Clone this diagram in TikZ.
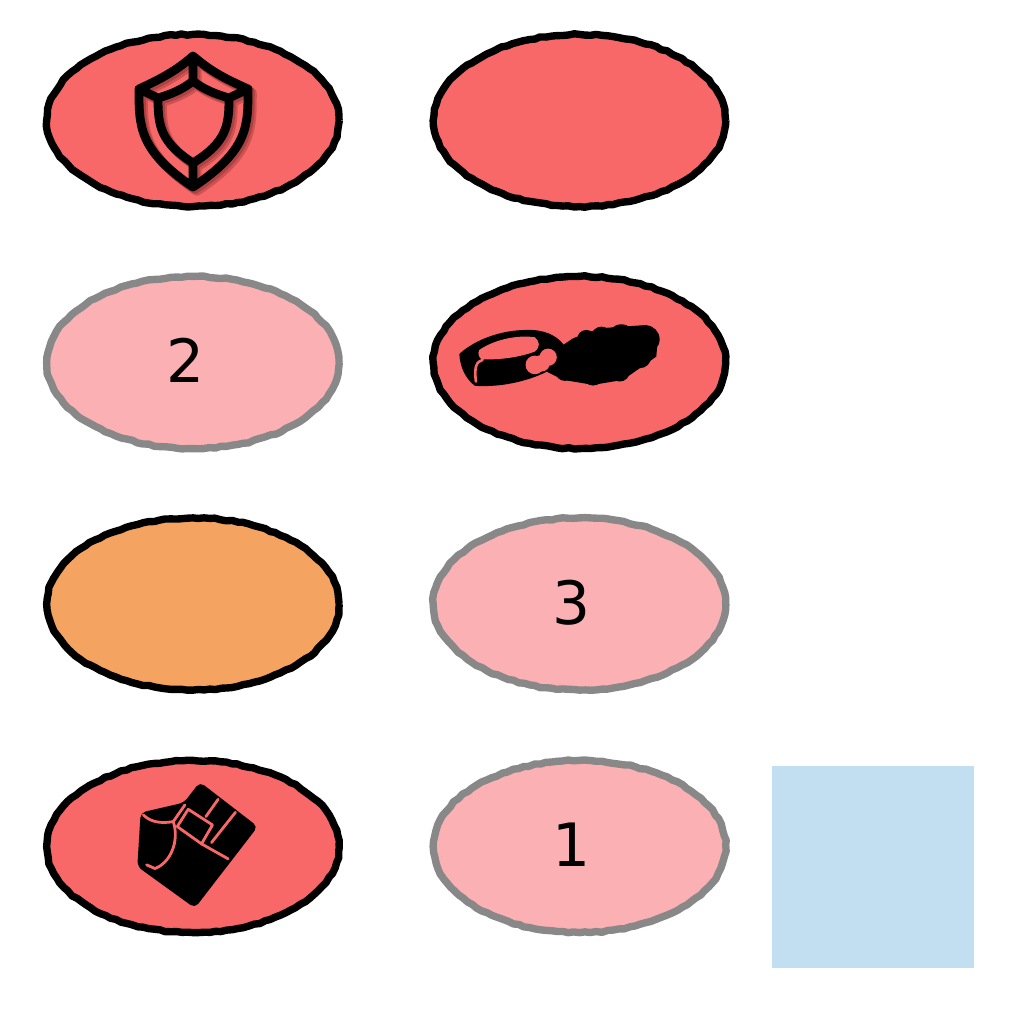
\documentclass[tikz,border=0pt]{standalone}
\usepackage{fontspec}
\setmainfont{DejaVu Sans}
\usetikzlibrary{shapes.geometric,decorations.pathmorphing}
\definecolor{redfill}{HTML}{F86868}
\definecolor{palefill}{HTML}{FBB1B3}
\definecolor{orangefill}{HTML}{F5A361}
\definecolor{greyline}{HTML}{888888}
\definecolor{bluefill}{HTML}{C1DFF1}
\definecolor{shadowred}{HTML}{4A1010}
\pgfmathsetmacro{\unusedseed}{1}
\pgfmathsetseed{7}
\tikzset{
  blob/.style={ellipse,inner sep=0pt,minimum width=2.92cm,minimum height=1.72cm,
    line width=2.1pt,line join=round,decorate,
    decoration={random steps,segment length=1.6pt,amplitude=0.2pt}},
  hot/.style={blob,draw=black,fill=redfill},
  pale/.style={blob,draw=greyline,fill=palefill},
  warm/.style={blob,draw=black,fill=orangefill},
  numlabel/.style={inner sep=0pt,font=\fontsize{17}{17}\selectfont,text=black},
  shieldline/.style={line width=2.5pt,line join=round,line cap=round,draw=black},
  shieldshade/.style={line width=2.7pt,line join=round,line cap=round,draw=shadowred,opacity=0.24},
  pinkline/.style={draw=redfill,line width=0.75pt,line cap=round,line join=round},
  pinkthick/.style={draw=redfill,line width=0.8pt,line cap=round,line join=round},
  pxscope/.style={x=0.003333cm,y=-0.003333cm},
  legendsquare/.style={draw=none,fill=bluefill,inner sep=0pt,minimum size=2.02cm}
}
\newcommand{\shieldpaths}{
  (193,56) .. controls (175,72) and (158,80) .. (139,89)
    .. controls (139,125) and (138,150) .. (193,187)
    .. controls (249,150) and (248,125) .. (248,89)
    .. controls (228,80) and (211,72) .. (193,56) -- cycle
  (193,81) .. controls (183,89) and (172,94) .. (158,98)
    .. controls (158,125) and (160,142) .. (193,163)
    .. controls (227,142) and (229,125) .. (229,98)
    .. controls (215,94) and (203,89) .. (193,81) -- cycle
  (193,56) -- (193,81) (193,163) -- (193,187)
  (139,89) -- (158,98) (248,89) -- (229,98)
}
\begin{document}
\begin{tikzpicture}[x=0.01cm,y=-0.01cm]
\useasboundingbox (0,0) rectangle (1024,1024);
\node[hot]  (a1) at (193,120.5) {};
\node[hot]  (b1) at (579.5,120.5) {};
\node[pale] (a2) at (193,362.5) {};
\node[hot]  (b2) at (579.5,362.5) {};
\node[warm] (a3) at (193,604) {};
\node[pale] (b3) at (579.5,604) {};
\node[hot]  (a4) at (193,846.5) {};
\node[pale] (b4) at (579.5,846.5) {};
\node[legendsquare] (sq) at (873,867) {};
\node[numlabel] (t2) at (186,360) {2};
\node[numlabel] (t3) at (572,603) {3};
\node[numlabel] (t1) at (572,845) {1};
% shield
\begin{scope}[shift={(4,4)}]
  \draw[shieldshade] \shieldpaths;
\end{scope}
\begin{scope}[shift={(2,2)}]
  \draw[shieldshade] \shieldpaths;
\end{scope}
\draw[shieldline] \shieldpaths;
% ring and blob
\begin{scope}[shift={(440,300)},pxscope]
  \fill[black] (58,162) .. controls (110,115) and (190,90) .. (260,90)
     .. controls (310,88) and (350,105) .. (372,135)
     .. controls (375,175) and (350,205) .. (300,225)
     .. controls (240,250) and (170,262) .. (105,258)
     .. controls (75,235) and (60,200) .. (58,162) -- cycle;
  \fill[black] (370,135) -- (400,115) -- (480,85) -- (620,75) -- (655,110) -- (650,170)
     -- (600,205) -- (550,240) -- (460,255) -- (370,240) -- (320,215) -- cycle;
  \fill[black] (440,118) circle (28) (485,110) circle (30) (545,115) circle (42) (618,118) circle (42)
     (460,225) circle (32) (540,215) circle (30) (375,215) circle (28) (600,170) circle (35);
  \fill[redfill] (118,150) .. controls (170,115) and (240,105) .. (285,112)
     .. controls (300,125) and (302,140) .. (285,155)
     .. controls (230,175) and (170,180) .. (125,178)
     .. controls (115,170) and (113,160) .. (118,150) -- cycle;
  \fill[redfill] (285,195) circle (28) (325,172) circle (26) (305,190) circle (25);
  \draw[pinkline] (128,180) .. controls (110,185) and (102,200) .. (108,245);
\end{scope}
% pocket
\begin{scope}[shift={(120,770)},pxscope]
  \fill[black,rounded corners=1.5pt] (240,36) -- (414,170) -- (225,415) -- (52,290) -- (62,128) -- (192,98) -- cycle;
  \draw[pinkthick] (205,118) -- (278,165) -- (245,222) -- (172,170) -- cycle;
  \draw[pinkthick] (295,88) -- (258,140);
  \draw[pinkthick] (347,127) -- (275,218);
  \draw[pinkthick] (245,222) -- (325,267);
  \draw[pinkthick] (70,135) .. controls (95,160) and (130,160) .. (160,155);
  \draw[pinkthick] (195,105) -- (160,155);
  \draw[pinkthick] (160,155) .. controls (180,215) and (150,280) .. (105,296) -- (80,285);
\end{scope}
\end{tikzpicture}
\end{document}
